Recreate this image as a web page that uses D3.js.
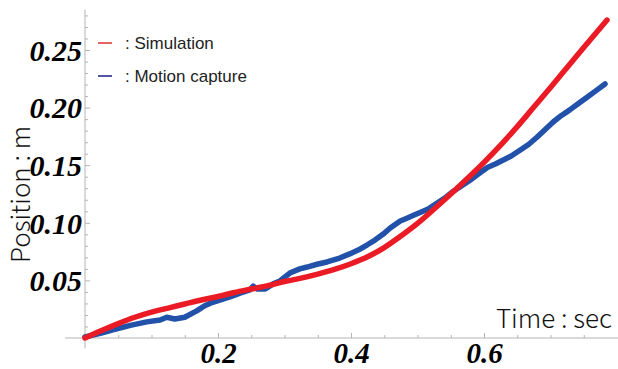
<!DOCTYPE html>
<html>
<head>
<meta charset="utf-8">
<script src="https://cdn.jsdelivr.net/npm/d3@7"></script>
<style>
  html, body { margin: 0; padding: 0; background: #fff; }
  svg { display: block; }
</style>
</head>
<body>
<svg id="chart" width="618" height="369"></svg>
<script>
// ---- data ----
const simTime = [0, 0.025, 0.05, 0.075, 0.1, 0.125, 0.15, 0.175, 0.2, 0.225, 0.25, 0.275, 0.3, 0.325, 0.35, 0.375, 0.4, 0.425, 0.45, 0.475, 0.5, 0.525, 0.55, 0.575, 0.6, 0.625, 0.65, 0.675, 0.7, 0.725, 0.75, 0.785];
const simPos  = [0, 0.0065, 0.0125, 0.018, 0.0225, 0.026, 0.0295, 0.033, 0.036, 0.0395, 0.0425, 0.0455, 0.049, 0.052, 0.0555, 0.0595, 0.0645, 0.0705, 0.0785, 0.0885, 0.0995, 0.112, 0.125, 0.1385, 0.1525, 0.1675, 0.1835, 0.2005, 0.2175, 0.2348, 0.2522, 0.276];

const mocapTime = [0, 0.023, 0.042, 0.068, 0.093, 0.113, 0.123, 0.135, 0.150, 0.168, 0.180, 0.192, 0.218, 0.233, 0.248, 0.253, 0.259, 0.271, 0.283, 0.293, 0.308, 0.323, 0.334, 0.349, 0.364, 0.383, 0.398, 0.414, 0.424, 0.436, 0.448, 0.459, 0.474, 0.484, 0.494, 0.504, 0.516, 0.529, 0.541, 0.553, 0.566, 0.579, 0.592, 0.605, 0.617, 0.629, 0.641, 0.654, 0.667, 0.68, 0.692, 0.704, 0.716, 0.729, 0.742, 0.755, 0.768, 0.782];
const mocapPos  = [0.001, 0.004, 0.007, 0.011, 0.014, 0.0156, 0.018, 0.0165, 0.018, 0.0235, 0.028, 0.031, 0.0356, 0.039, 0.0417, 0.045, 0.0425, 0.0425, 0.047, 0.0495, 0.0564, 0.060, 0.0616, 0.064, 0.066, 0.0694, 0.073, 0.0773, 0.0807, 0.085, 0.090, 0.0955, 0.1016, 0.104, 0.1065, 0.109, 0.112, 0.117, 0.1215, 0.127, 0.132, 0.137, 0.1425, 0.148, 0.151, 0.1545, 0.158, 0.163, 0.168, 0.1745, 0.181, 0.1875, 0.193, 0.198, 0.2035, 0.209, 0.2145, 0.2205];

const xMajorTicks = [0.2, 0.4, 0.6];
const xTickLabels = ["0.2", "0.4", "0.6"];
const yMajorTicks = [0.05, 0.10, 0.15, 0.20, 0.25];
const yTickLabels = ["0.05", "0.10", "0.15", "0.20", "0.25"];
const seriesNames = [": Simulation", ": Motion capture"];
const xTitle = "Time : sec";
const yTitle = "Position : m";

// ---- scales ----
const svg = d3.select("#chart");
const x = d3.scaleLinear().domain([0, 0.8]).range([85, 617]);
const y = d3.scaleLinear().domain([0, 0.25]).range([338, 50]);

const axisColor = "#b4b4b4";

// axis lines
svg.append("line")
  .attr("x1", x(-0.03)).attr("x2", 618)
  .attr("y1", y(0)).attr("y2", y(0))
  .attr("stroke", axisColor).attr("stroke-width", 1);
svg.append("line")
  .attr("x1", x(0)).attr("x2", x(0))
  .attr("y1", y(-0.009)).attr("y2", y(0.285))
  .attr("stroke", axisColor).attr("stroke-width", 1);

// x ticks
const xMinor = d3.range(1, 16).map(i => i * 0.05).filter(v => !xMajorTicks.some(m => Math.abs(m - v) < 1e-9));
const xAxisMinor = d3.axisBottom(x).tickValues(xMinor).tickSize(-3).tickFormat("");
const gxm = svg.append("g").attr("transform", `translate(0,${y(0)})`).call(xAxisMinor);
const xAxisMajor = d3.axisBottom(x).tickValues(xMajorTicks).tickSize(-5).tickFormat((d, i) => xTickLabels[i]);
const gx = svg.append("g").attr("transform", `translate(0,${y(0)})`).call(xAxisMajor);
[gxm, gx].forEach(g => {
  g.select(".domain").remove();
  g.selectAll(".tick line").attr("stroke", axisColor);
});
gx.selectAll(".tick text")
  .attr("y", 25)
  .attr("dy", 0)
  .attr("fill", "#000")
  .style("font-family", "'Liberation Serif', 'Times New Roman', serif")
  .style("font-weight", "bold")
  .style("font-style", "italic")
  .style("font-size", "29px");

// y ticks
const yMinor = d3.range(1, 29).map(i => i * 0.01).filter(v => !yMajorTicks.some(m => Math.abs(m - v) < 1e-9));
const yAxisMinor = d3.axisLeft(y).tickValues(yMinor).tickSize(-3).tickFormat("");
const gym = svg.append("g").attr("transform", `translate(${x(0)},0)`).call(yAxisMinor);
const yAxisMajor = d3.axisLeft(y).tickValues(yMajorTicks).tickSize(-5).tickFormat((d, i) => yTickLabels[i]);
const gy = svg.append("g").attr("transform", `translate(${x(0)},0)`).call(yAxisMajor);
[gym, gy].forEach(g => {
  g.select(".domain").remove();
  g.selectAll(".tick line").attr("stroke", axisColor);
});
gy.selectAll(".tick text")
  .attr("x", -3)
  .attr("dy", "0.34em")
  .attr("fill", "#000")
  .style("font-family", "'Liberation Serif', 'Times New Roman', serif")
  .style("font-weight", "bold")
  .style("font-style", "italic")
  .style("font-size", "30px");

// ---- lines ----
const mocapData = mocapTime.map((t, i) => [t, mocapPos[i]]);
const simData = simTime.map((t, i) => [t, simPos[i]]);

svg.append("path")
  .datum(mocapData)
  .attr("fill", "none")
  .attr("stroke", "#2151a8")
  .attr("stroke-width", 5.5)
  .attr("stroke-linejoin", "round")
  .attr("stroke-linecap", "round")
  .attr("d", d3.line().x(d => x(d[0])).y(d => y(d[1])).curve(d3.curveLinear));

svg.append("path")
  .datum(simData)
  .attr("fill", "none")
  .attr("stroke", "#ea1b24")
  .attr("stroke-width", 5.5)
  .attr("stroke-linecap", "round")
  .attr("d", d3.line().x(d => x(d[0])).y(d => y(d[1])).curve(d3.curveMonotoneX));

// ---- legend ----
const legendColors = ["#e63a3a", "#2a2f8a"];
const legendY = [43, 76];
seriesNames.forEach((name, i) => {
  svg.append("line")
    .attr("x1", 98).attr("x2", 112)
    .attr("y1", legendY[i]).attr("y2", legendY[i])
    .attr("stroke", legendColors[i]).attr("stroke-width", 1.6);
  svg.append("text")
    .attr("x", 125).attr("y", legendY[i])
    .attr("dy", "0.35em")
    .attr("fill", "#222")
    .style("font-family", "'Liberation Sans', Arial, sans-serif")
    .style("font-size", "17px")
    .text(name);
});

// ---- axis titles ----
svg.append("text")
  .attr("x", 612).attr("y", 328)
  .attr("text-anchor", "end")
  .attr("fill", "#111")
  .style("font-family", "'Noto Sans CJK JP', 'Noto Sans', sans-serif")
  .style("font-weight", 300)
  .style("font-size", "26px")
  .text(xTitle);

svg.append("text")
  .attr("transform", "translate(30,263) rotate(-90)")
  .attr("x", 0).attr("y", 0)
  .attr("fill", "#111")
  .style("font-family", "'Noto Sans CJK JP', 'Noto Sans', sans-serif")
  .style("font-weight", 300)
  .style("font-size", "26px")
  .text(yTitle);
</script>
</body>
</html>
